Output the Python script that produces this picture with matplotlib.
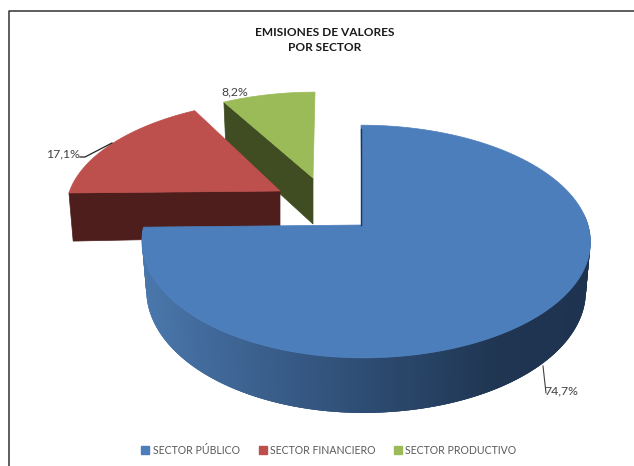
import numpy as np
import matplotlib
matplotlib.use('Agg')
import matplotlib.pyplot as plt
from matplotlib.colors import LinearSegmentedColormap
from matplotlib.patches import Patch

title = 'EMISIONES DE VALORES\nPOR SECTOR'
sectors = ['SECTOR PÚBLICO', 'SECTOR FINANCIERO', 'SECTOR PRODUCTIVO']
shares = [74.7, 17.1, 8.2]
share_labels = ['74,7%', '17,1%', '8,2%']

top_colors = ['#4c7ebb', '#bd4f4c', '#9bbb59']
wall_colors = ['#1e334f', '#4e1e1d', '#404c21']
apexes = [(362, 225), (280, 191), (313, 178)]   # exploded slices
scales = [(1.0, 1.0), (0.965, 0.91), (0.95, 0.86)]
skews = [-1, 8, 2]

plt.rcParams['font.family'] = ['Lato', 'DejaVu Sans']

fig = plt.figure(figsize=(6.34, 4.66), dpi=100)
ax = fig.add_axes([0, 0, 1, 1])
ax.set_xlim(0, 634)
ax.set_ylim(466, 0)
ax.axis('off')

# chart frame, only the top and left sides are in the picture
ax.plot([9, 9, 634], [466, 11, 11], color='#333333', lw=1.1)


def project(theta, i, lower=False):
    # theta clockwise from 12 o'clock, simple perspective on the pie disc
    a, b = np.sin(theta), np.cos(theta)
    w = 1 + 0.142 * b
    r = np.where(a < 0, 218, 226)
    x = a * r / w * scales[i][0] + skews[i] * b
    y = -b * 114 / w * scales[i][1]
    if lower:
        x = x * 0.98
        y = y + 48 - 7 * b
    return apexes[i][0] + x, apexes[i][1] + y


def apex(i, lower=False):
    x, y = apexes[i]
    return x, y + 46 if lower else y


edges = np.radians(np.cumsum([0] + shares) * 3.6)


def draw_radial_wall(i, theta):
    x0, y0 = project(theta, i)
    x1, y1 = project(theta, i, lower=True)
    ax0, ay0 = apex(i)
    ax1, ay1 = apex(i, lower=True)
    ax.fill([x0, ax0, ax1, x1], [y0, ay0, ay1, y1], color=wall_colors[i], lw=0.5)


def draw_top(i):
    t = np.linspace(edges[i], edges[i + 1], 200)
    x, y = project(t, i)
    ax.fill(np.r_[apexes[i][0], x], np.r_[apexes[i][1], y], color=top_colors[i], lw=0.5)


# green first, red over it, blue in front
draw_radial_wall(2, edges[2])
draw_top(2)
draw_radial_wall(1, edges[1])
draw_top(1)

# curved side of the big slice, lighter on the left
side_cmap = LinearSegmentedColormap.from_list(
    'side', [(0, '#4a77ab'), (0.14, '#41699a'), (0.5, '#2d4c72'), (0.8, '#1f3551'), (1, '#1e334f')])
t = np.linspace(edges[1], np.radians(85), 260)
for k in range(len(t) - 1):
    # each strip runs on under the next one so no seams show
    t_end = t[min(k + 3, len(t) - 1)]
    xa, ya = project(np.array([t[k], t_end]), 0)
    xb, yb = project(np.array([t_end, t[k]]), 0, lower=True)
    c = side_cmap(np.clip((xa[0] - 145) / 445, 0, 1))
    ax.fill(np.r_[xa, xb], np.r_[ya, yb], color=c, lw=0)

draw_top(0)
# thin dark edge of the blue slice at 12 o'clock
x0, y0 = project(np.array(0.0), 0)
ax.plot([x0, apexes[0][0] - 1], [y0 + 4, apexes[0][1]], color=wall_colors[0], lw=1)

# data labels and leaders
label_color = '#404040'
ax.plot([543, 546], [366, 393], color='#404040', lw=0.8)
ax.plot([80, 85, 112], [157, 157, 143], color='#222222', lw=0.9)
ax.text(561, 391, share_labels[0], fontsize=8.8, color=label_color, ha='center', va='center')
ax.text(63, 154, share_labels[1], fontsize=8.8, color=label_color, ha='center', va='center')
ax.text(235, 92, share_labels[2], fontsize=8.8, color=label_color, ha='center', va='center')

ax.text(325, 40, title, fontsize=8.6, fontweight='bold', color='#1a1a1a',
        ha='center', va='center', linespacing=1.5)

handles = [Patch(color=c) for c in top_colors]
ax.legend(handles, sectors, ncol=3, loc='center', bbox_to_anchor=(329, 450),
          bbox_transform=ax.transData, frameon=False, fontsize=7.6, labelcolor='#595959',
          handlelength=0.75, handleheight=0.75, handletextpad=0.3, columnspacing=1.81)

fig.savefig('out.png', dpi=100)
